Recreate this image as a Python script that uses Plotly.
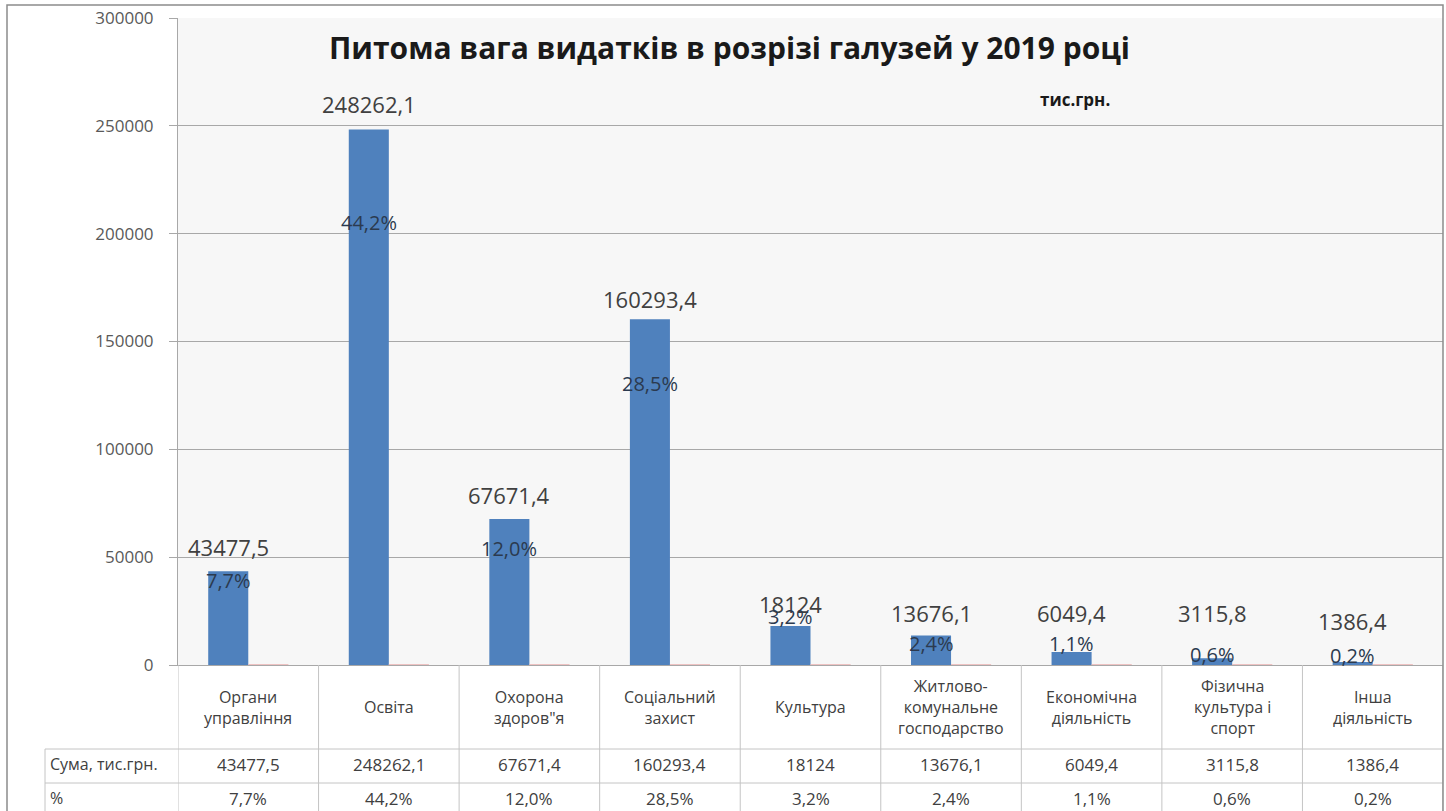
import plotly.graph_objects as go

# Дані діаграми
categories = [
    "Органи<br>управління",
    "Освіта",
    "Охорона<br>здоров\"я",
    "Соціальний<br>захист",
    "Культура",
    "Житлово-<br>комунальне<br>господарство",
    "Економічна<br>діяльність",
    "Фізична<br>культура і<br>спорт",
    "Інша<br>діяльність",
]
sums = [43477.5, 248262.1, 67671.4, 160293.4, 18124, 13676.1, 6049.4, 3115.8, 1386.4]
sum_labels = ["43477,5", "248262,1", "67671,4", "160293,4", "18124",
              "13676,1", "6049,4", "3115,8", "1386,4"]
shares = [0.077, 0.442, 0.120, 0.285, 0.032, 0.024, 0.011, 0.006, 0.002]
share_labels = ["7,7%", "44,2%", "12,0%", "28,5%", "3,2%", "2,4%", "1,1%", "0,6%", "0,2%"]

# зсуви підписів (px) — як вручну розставлено в Excel
sum_shift = [24, 26, 24, 20, 22, 23, 39, 45, 41]
share_shift = [-9, -93, -29, -64, 9, -8, 8, 4, 7]

FONT = "Open Sans"
BLUE = "#4F81BD"
GRID = "#a8a8a8"
TABLE = "#c4c4c4"
TEXT = "#404040"

W, H = 1446, 811
L, R, T, B = 178, 3, 18, 146
pw, ph = W - L - R, H - T - B


def px_x(px):
    return (px - L) / pw


def px_y(py):
    return (H - B - py) / ph


xs = list(range(len(categories)))

fig = go.Figure()

fig.add_trace(go.Bar(
    x=xs, y=sums, name="Сума, тис.грн.",
    marker=dict(color=BLUE, line=dict(width=0)),
    hoverinfo="skip",
))
fig.add_trace(go.Bar(
    x=xs, y=shares, name="%",
    marker=dict(color="#e9a3a3", line=dict(color="#eab0b0", width=1)),
    hoverinfo="skip",
))

# Підписи значень над стовпчиками та відсотки
for i in xs:
    fig.add_annotation(
        x=i, y=sums[i], xshift=-20, yshift=sum_shift[i],
        text=sum_labels[i], showarrow=False, yanchor="middle",
        font=dict(family=FONT, size=22, color=TEXT),
    )
    fig.add_annotation(
        x=i, y=sums[i], xshift=-20, yshift=share_shift[i],
        text=share_labels[i], showarrow=False, yanchor="middle",
        font=dict(family=FONT, size=20, color="#2b3a4f"),
    )

# Таблиця даних під віссю
row_cat, row_sum, row_pct = px_y(707), px_y(764), px_y(798)
for i in xs:
    fig.add_annotation(x=i, y=row_cat, yref="paper", text=categories[i],
                       showarrow=False, yanchor="middle",
                       font=dict(family=FONT, size=16, color=TEXT))
    fig.add_annotation(x=i, y=row_sum, yref="paper", text=sum_labels[i],
                       showarrow=False, yanchor="middle",
                       font=dict(family=FONT, size=17, color=TEXT))
    fig.add_annotation(x=i, y=row_pct, yref="paper", text=share_labels[i],
                       showarrow=False, yanchor="middle",
                       font=dict(family=FONT, size=17, color=TEXT))

fig.add_annotation(x=px_x(48), y=row_sum, xref="paper", yref="paper",
                   text="Сума, тис.грн.", showarrow=False, xanchor="left",
                   yanchor="middle", font=dict(family=FONT, size=16, color=TEXT))
fig.add_annotation(x=px_x(48), y=row_pct, xref="paper", yref="paper",
                   text="%", showarrow=False, xanchor="left",
                   yanchor="middle", font=dict(family=FONT, size=16, color=TEXT))

bottom = px_y(H + 5)
for k in range(len(categories) + 1):
    fig.add_shape(type="line", xref="x", yref="paper",
                  x0=k - 0.5, x1=k - 0.5, y0=0, y1=bottom,
                  line=dict(color=TABLE, width=1))
for py in (749, 783):
    fig.add_shape(type="line", xref="paper", yref="paper",
                  x0=px_x(45), x1=1, y0=px_y(py), y1=px_y(py),
                  line=dict(color=TABLE, width=1))
fig.add_shape(type="line", xref="paper", yref="paper",
              x0=px_x(45), x1=px_x(45), y0=px_y(749), y1=bottom,
              line=dict(color=TABLE, width=1))

# Зовнішня рамка діаграми
fig.add_shape(type="rect", xref="paper", yref="paper",
              x0=px_x(7), x1=px_x(1443), y0=bottom, y1=px_y(5),
              line=dict(color="#8c8c8c", width=1.5))

# Заголовок та одиниці
fig.add_annotation(x=px_x(729), y=px_y(47), xref="paper", yref="paper",
                   text="<b>Питома вага видатків в розрізі галузей у 2019 році</b>",
                   showarrow=False, yanchor="middle",
                   font=dict(family=FONT, size=30, color="#1a1a1a"))
fig.add_annotation(x=px_x(1038), y=px_y(100), xref="paper", yref="paper",
                   text="<b>тис.грн.</b>", showarrow=False, xanchor="left",
                   yanchor="middle",
                   font=dict(family=FONT, size=17, color="#1a1a1a"))

fig.update_layout(
    width=W, height=H,
    margin=dict(l=L, r=R, t=T, b=B),
    paper_bgcolor="white",
    plot_bgcolor="#f7f7f7",
    showlegend=False,
    barmode="group",
    bargap=0.43,
    bargroupgap=0,
    xaxis=dict(range=[-0.5, len(categories) - 0.5], showticklabels=False,
               showgrid=False, zeroline=False, showline=True,
               linecolor=GRID, linewidth=1, mirror=False),
    yaxis=dict(range=[0, 300000], dtick=50000, showgrid=True, gridcolor=GRID,
               gridwidth=1, zeroline=False, showline=True, linecolor=GRID,
               ticks="outside", ticklen=8, tickcolor=GRID,
               tickformat="d", ticklabelstandoff=12,
               tickfont=dict(family=FONT, size=17, color="#595959")),
)

fig.write_html("out.html", config={"displayModeBar": False},
               post_script="document.body.style.margin='0';")
